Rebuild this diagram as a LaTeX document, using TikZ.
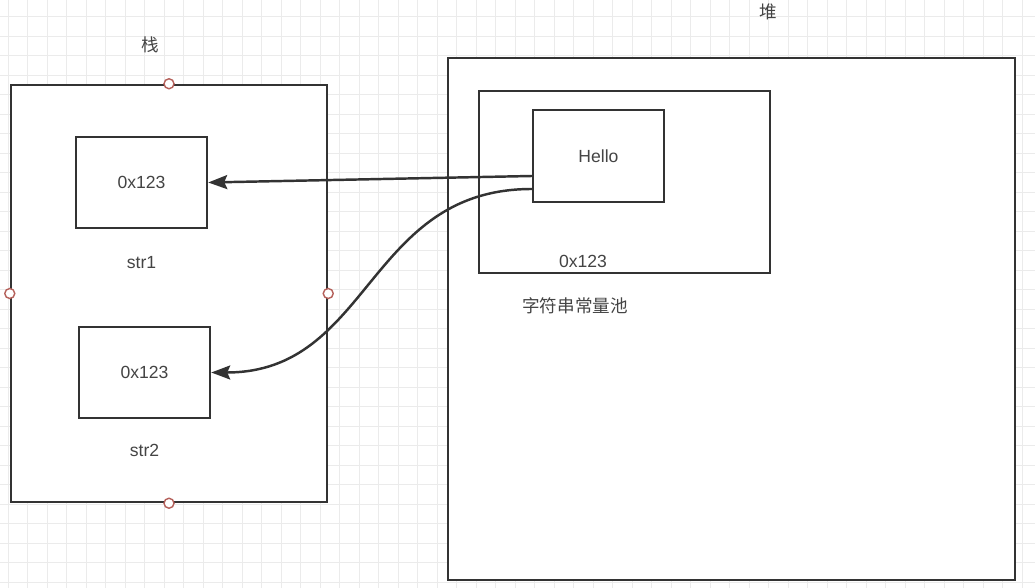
\documentclass[tikz,border=0pt]{standalone}
\usepackage{fontspec}
\setmainfont{Liberation Sans}
\newfontfamily\cjk{Noto Sans CJK SC}
\usepackage{xcolor}
\usepackage{tikz}
\usetikzlibrary{arrows.meta, positioning}

\definecolor{linegray}{HTML}{333333}
\definecolor{textgray}{HTML}{444444}
\definecolor{gridgray}{HTML}{EBEBEB}
\definecolor{handlered}{HTML}{B5605A}

\begin{document}
\begin{tikzpicture}[
        area/.style={rectangle, draw=linegray, fill=white, line width=1.4pt, inner sep=0pt},
        cell/.style={rectangle, draw=linegray, fill=white, line width=1.4pt, minimum width=2.62cm, minimum height=1.82cm, font=\fontsize{10}{12}\selectfont, text=textgray},
        lbl/.style={font=\fontsize{10}{12}\selectfont, text=textgray, inner sep=1pt},
        handle/.style={circle, draw=handlered, fill=white, line width=0.8pt, minimum size=0.2cm, inner sep=0pt},
        gridline/.style={draw=gridgray, line width=0.5pt},
        arrow/.style={-{Stealth[length=0.38cm, width=0.28cm, inset=0.06cm]}, draw=linegray, line width=1.4pt}]

        % Rahmen und Raster
        \useasboundingbox (0,0) rectangle (20.7,-11.76);
        \clip (0,0) rectangle (20.7,-11.76);
        \fill[white] (0,0) rectangle (20.7,-11.76);
        \draw[gridline, shift={(0.165,-0.335)}] (-0.39,0.39) grid[step=0.39] (20.7,-11.8);

        % Stack
        \node[area, minimum width=6.32cm, minimum height=8.34cm] (stack) at (3.38,-5.87) {};
        \node[lbl, font=\cjk\fontsize{10}{12}\selectfont] (stacklbl) at (3.0,-0.9) {栈};
        \node[cell] (str1box) at (2.83,-3.65) {0x123};
        \node[lbl, below=0.5cm of str1box] (str1) {str1};
        \node[cell] (str2box) at (2.89,-7.45) {0x123};
        \node[lbl, below=0.45cm of str2box] (str2) {str2};

        % Heap
        \node[area, minimum width=11.34cm, minimum height=10.44cm] (heap) at (14.63,-6.38) {};
        \node[lbl, font=\cjk\fontsize{10}{12}\selectfont] (heaplbl) at (15.36,-0.24) {堆};
        \node[area, minimum width=5.82cm, minimum height=3.64cm] (pool) at (12.49,-3.64) {};
        \node[cell, minimum height=1.84cm] (hello) at (11.97,-3.12) {Hello};
        \node[lbl] (pooladdr) at (11.66,-5.22) {0x123};
        \node[lbl, font=\cjk\fontsize{10}{12}\selectfont] (poollbl) at (11.5,-6.12) {字符串常量池};

        % Griffe am Stack
        \node[handle] (hn) at (stack.north) {};
        \node[handle] (hs) at (stack.south) {};
        \node[handle] (hw) at (stack.west) {};
        \node[handle] (he) at (stack.east) {};

        % Referenzen
        \draw[arrow] ([yshift=-0.4cm]hello.west) -- (str1box.east);
        \draw[arrow] ([yshift=-0.66cm]hello.west) .. controls +(-3.3,0) and +(3.2,0) .. (str2box.east);

\end{tikzpicture}
\end{document}
